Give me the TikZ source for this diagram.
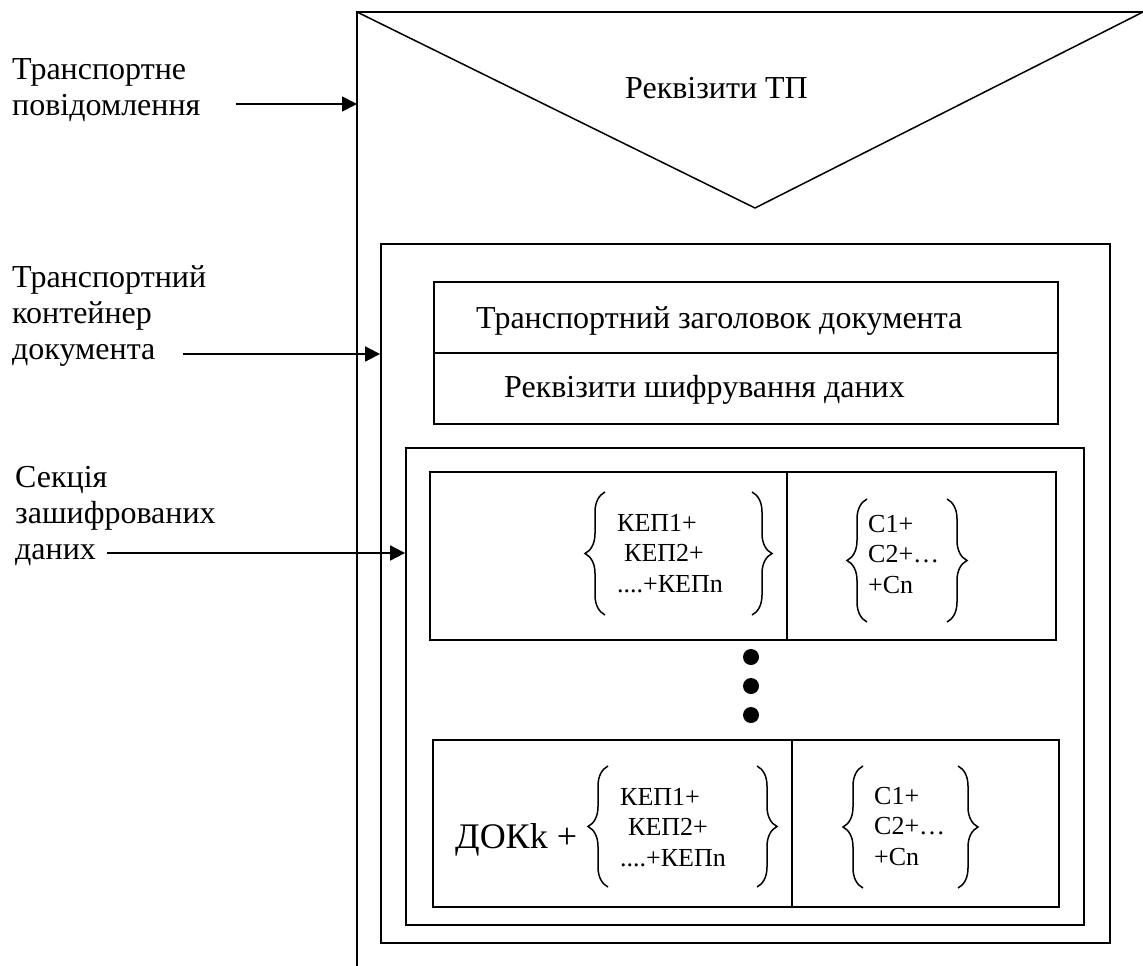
\documentclass[tikz,border=0pt]{standalone}
\usepackage{fontspec}
\setmainfont{Liberation Serif}
\usetikzlibrary{arrows.meta,decorations.pathreplacing}

\newcommand{\txtlines}[1]{\begin{tabular}[t]{@{}l@{}}#1\end{tabular}}

\tikzset{
  box/.style={draw, line width=1.8pt, inner sep=0pt},
  lbl/.style={anchor=base west, inner sep=0pt, font=\fontsize{32}{36}\selectfont},
  small/.style={anchor=base west, inner sep=0pt, font=\fontsize{26}{30.5}\selectfont},
  brc/.style={decorate, decoration={brace, amplitude=20pt}, line width=1.5pt},
  arr/.style={->, line width=1.8pt},
  >={Triangle[length=15pt,width=15pt]}
}

\begin{document}
\begin{tikzpicture}[x=1pt,y=-1pt]
	\useasboundingbox (0,0) rectangle (1143,966);

	% transport message frame
	\coordinate (frameL) at (357,12);
	\draw[line width=1.8pt] (1143,12) -- (frameL) -- (357,966);
	\draw[line width=1.5pt] (frameL) -- (755,208) -- (1143,12);
	\node[lbl] (tp) at (625,98) {Реквізити ТП};

	% container
	\node[box, minimum width=729pt, minimum height=699pt] (cont) at (745.5,593.5) {};
	\node[box, minimum width=624pt, minimum height=71pt] (hdrA) at (746,317.5) {};
	\node[box, minimum width=624pt, minimum height=71pt] (hdrB) at (746,388.5) {};
	\node[lbl] (hdrAtxt) at (476,328) {Транспортний заголовок документа};
	\node[lbl] (hdrBtxt) at (504,397) {Реквізити шифрування даних};

	% encrypted section
	\node[box, minimum width=678pt, minimum height=477pt] (sec) at (745,686.5) {};

	% first document
	\node[box, minimum width=357pt, minimum height=168pt] (rowAa) at (608.5,556) {};
	\node[box, minimum width=269pt, minimum height=168pt] (rowAb) at (921.5,556) {};
	\draw[brc] (605,615) -- (605,492);
	\draw[brc] (752,492) -- (752,615);
	\node[small] (kepA) at (617,531) {\txtlines{КЕП1+\\\hspace{7pt}КЕП2+\\....+КЕПn}};
	\draw[brc] (867,622) -- (867,499);
	\draw[brc] (947,499) -- (947,622);
	\node[small] (cA) at (868,532) {\txtlines{C1+\\C2+…\\+Cn}};

	\foreach \y in {657,686,715}
	\fill (751,\y) circle (8pt);

	% k-th document
	\node[box, minimum width=359pt, minimum height=167pt] (rowBa) at (612.5,823.5) {};
	\node[box, minimum width=267pt, minimum height=167pt] (rowBb) at (925.5,823.5) {};
	\node[anchor=base west, inner sep=0pt, font=\fontsize{36}{40}\selectfont] (dok) at (455,848) {ДОКk +};
	\draw[brc] (608,887) -- (608,766);
	\draw[brc] (757,766) -- (757,887);
	\node[small] (kepB) at (620,805) {\txtlines{КЕП1+\\\hspace{8pt}КЕП2+\\....+КЕПn}};
	\draw[brc] (863,888) -- (863,766);
	\draw[brc] (958,766) -- (958,888);
	\node[small] (cB) at (874,804) {\txtlines{C1+\\C2+…\\+Cn}};

	% labels on the left
	\node[lbl] (msg) at (12,79) {\txtlines{Транспортне\\повідомлення}};
	\coordinate (msgA) at (236,104);
	\draw[arr] (msgA) -- (msgA -| frameL);

	\node[lbl] (contLbl) at (12,287) {\txtlines{Транспортний\\контейнер\\документа}};
	\coordinate (contA) at (183,354);
	\draw[arr] (contA) -- (contA -| cont.west);

	\node[lbl] (secLbl) at (15,487) {\txtlines{Секція\\зашифрованих\\даних}};
	\coordinate (secA) at (107,553);
	\draw[arr] (secA) -- (secA -| sec.west);

\end{tikzpicture}
\end{document}
